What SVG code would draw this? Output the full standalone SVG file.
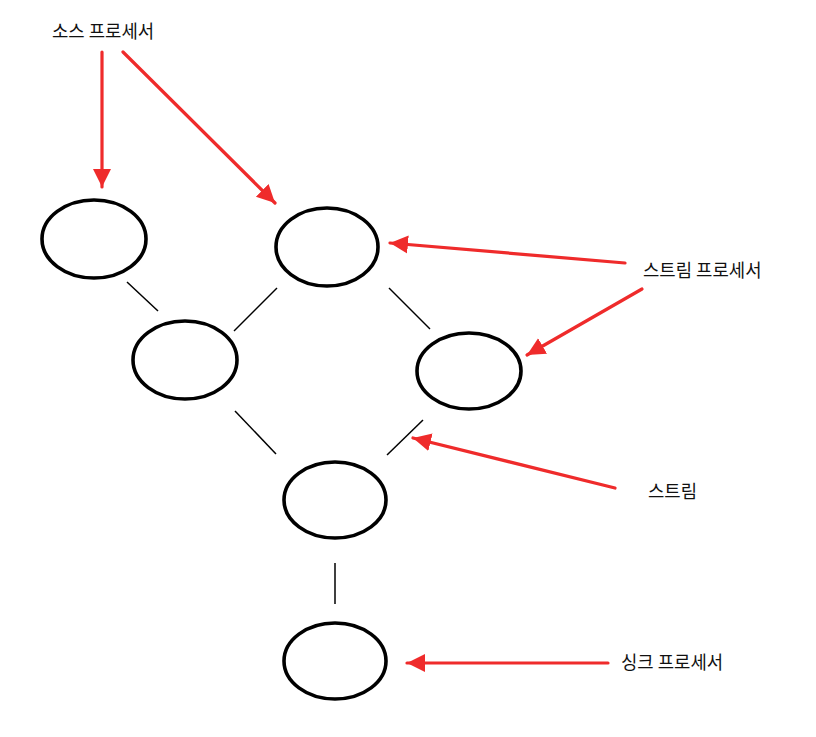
<svg xmlns="http://www.w3.org/2000/svg" width="816" height="737" viewBox="0 0 816 737">
  <style>
    .node { fill: none; stroke: #000; stroke-width: 3.6; }
    .edge { stroke: #000; stroke-width: 1.5; fill: none; }
    .pointer { stroke: #ef2b2b; stroke-width: 3.2; fill: none; stroke-linecap: round; }
    .label { font-family: "Noto Sans CJK KR", "Liberation Sans", sans-serif; font-size: 17.8px; fill: #111; }
  </style>
  <defs>
    <marker id="head" markerUnits="userSpaceOnUse" markerWidth="20" markerHeight="20" viewBox="0 0 20 20" refX="18" refY="10" orient="auto">
      <path d="M0,1 L18,10 L0,19 Z" fill="#ef2b2b"/>
    </marker>
  </defs>
  <rect width="816" height="737" fill="#fff"/>

  <!-- stream graph nodes -->
  <g id="source-a"><ellipse class="node" cx="94" cy="239" rx="52" ry="39"/></g>
  <g id="source-b"><ellipse class="node" cx="327" cy="247" rx="51" ry="39"/></g>
  <g id="proc-left"><ellipse class="node" cx="185" cy="360" rx="52" ry="39"/></g>
  <g id="proc-right"><ellipse class="node" cx="469" cy="371" rx="52" ry="38"/></g>
  <g id="proc-center"><ellipse class="node" cx="335" cy="500" rx="51" ry="38"/></g>
  <g id="sink"><ellipse class="node" cx="335" cy="661" rx="51" ry="38"/></g>

  <!-- links between processors -->
  <g id="connectors">
    <line class="edge" x1="127" y1="282" x2="158" y2="311"/>
    <line class="edge" x1="277" y1="288" x2="234" y2="331"/>
    <line class="edge" x1="389" y1="288" x2="430" y2="329"/>
    <line class="edge" x1="235" y1="411" x2="276" y2="454"/>
    <line class="edge" x1="423" y1="420" x2="387" y2="455"/>
    <line class="edge" x1="335" y1="563" x2="335" y2="604"/>
  </g>

  <!-- annotation pointers -->
  <g id="pointers">
    <line class="pointer" x1="102" y1="52" x2="102" y2="187" marker-end="url(#head)"/>
    <line class="pointer" x1="123" y1="52" x2="275" y2="203" marker-end="url(#head)"/>
    <line class="pointer" x1="625" y1="263" x2="390" y2="243" marker-end="url(#head)"/>
    <line class="pointer" x1="642" y1="289" x2="527" y2="355" marker-end="url(#head)"/>
    <line class="pointer" x1="615" y1="488" x2="413" y2="438" marker-end="url(#head)"/>
    <line class="pointer" x1="608" y1="663" x2="407" y2="663" marker-end="url(#head)"/>
  </g>

  <!-- labels -->
  <g id="labels">
    <text class="label" x="52" y="38">소스 프로세서</text>
    <text class="label" x="643" y="277">스트림 프로세서</text>
    <text class="label" x="648" y="498">스트림</text>
    <text class="label" x="621" y="669">싱크 프로세서</text>
  </g>
</svg>
